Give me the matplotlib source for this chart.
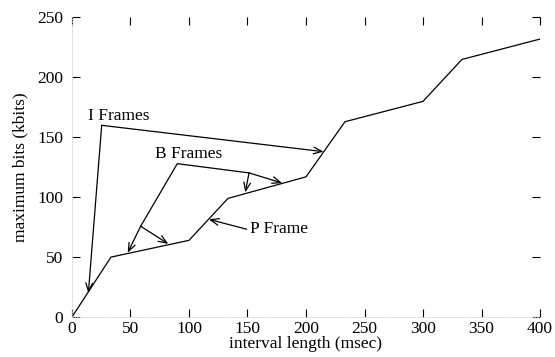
import matplotlib
matplotlib.use("Agg")
import matplotlib.pyplot as plt

# curve data
interval_ms = [0, 33.3, 100, 133.3, 200, 233.3, 300, 333.3, 400]
max_kbits = [0, 50, 64, 99, 117, 163, 180, 215, 232]

x_ticks = [0, 50, 100, 150, 200, 250, 300, 350, 400]
y_ticks = [0, 50, 100, 150, 200, 250]

# annotation geometry (data coords)
i_label = "I Frames"
i_label_pos = (40, 167.5)
i_corner = (25.4, 160)
i_tips = [(14, 20), (215, 138)]

b_label = "B Frames"
b_label_pos = (100, 135.8)
b_corner = (90, 128)
b_left_mid = (58.7, 75.8)
b_left_tips = [(47.6, 53.6), (82.3, 61.0)]
b_right_mid = (151.3, 120.3)
b_right_tips = [(148.1, 104.0), (179.7, 111.8)]

p_label = "P Frame"
p_label_pos = (152, 73.3)
p_tail = (149.3, 73.3)
p_tip = (117, 81.5)

plt.rcParams['font.family'] = ['Liberation Serif', 'DejaVu Serif']
plt.rcParams['font.size'] = 12.5

fig = plt.figure(figsize=(5.55, 3.57), dpi=100)
ax = fig.add_axes([0.1297, 0.112, 0.8433, 0.839])

lw = 0.9
ax.plot(interval_ms, max_kbits, color='black', lw=lw)

arrow_kw = dict(arrowstyle='->,head_length=0.5,head_width=0.2', color='black',
                lw=lw, shrinkA=0, shrinkB=0, mutation_scale=12)

# I frames
for tip in i_tips:
    ax.annotate('', xy=tip, xytext=i_corner, arrowprops=arrow_kw)
ax.text(*i_label_pos, i_label, ha='center', va='center')

# B frames
ax.plot([b_left_mid[0], b_corner[0], b_right_mid[0]],
        [b_left_mid[1], b_corner[1], b_right_mid[1]], color='black', lw=lw)
for tip in b_left_tips:
    ax.annotate('', xy=tip, xytext=b_left_mid, arrowprops=arrow_kw)
for tip in b_right_tips:
    ax.annotate('', xy=tip, xytext=b_right_mid, arrowprops=arrow_kw)
ax.text(*b_label_pos, b_label, ha='center', va='center')

# P frame
ax.annotate('', xy=p_tip, xytext=p_tail, arrowprops=arrow_kw)
ax.text(*p_label_pos, p_label, ha='left', va='center')

ax.set_xlim(0, 400)
ax.set_ylim(0, 250)
ax.set_xticks(x_ticks)
ax.set_yticks(y_ticks)
ax.set_xticklabels([str(v) for v in x_ticks])
ax.set_yticklabels([str(v) for v in y_ticks])

ax.tick_params(direction='in', top=True, right=True, length=6, width=0.8,
               labeltop=False, labelright=False)
ax.tick_params(axis='x', pad=3)
ax.tick_params(axis='y', pad=6.5)

for side in ['top', 'right']:
    ax.spines[side].set_visible(False)
for side in ['left', 'bottom']:
    ax.spines[side].set_color('#cccccc')
    ax.spines[side].set_linestyle((0, (1, 2)))
    ax.spines[side].set_linewidth(0.6)

ax.set_xlabel('interval length (msec)', labelpad=-1)
ax.set_ylabel('maximum bits (kbits)', labelpad=6)

fig.savefig('out.png', dpi=100)
